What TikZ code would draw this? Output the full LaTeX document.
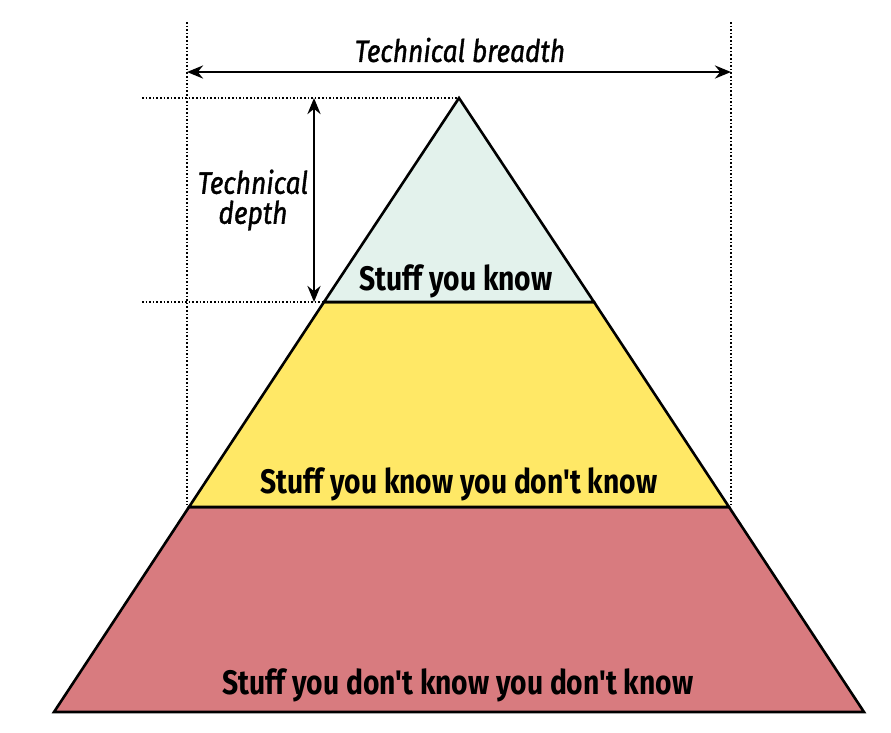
\documentclass[tikz,border=0pt]{standalone}
\usepackage{fontspec}
\setmainfont{Fira Sans}[FakeStretch=0.83, Ligatures=TeXOff]
\newfontfamily\italfont{Fira Sans}[FakeStretch=0.85, FakeBold=1.2]
\usetikzlibrary{arrows.meta}
\definecolor{topc}{HTML}{E3F2EC}
\definecolor{midc}{HTML}{FFE866}
\definecolor{botc}{HTML}{D87B7F}
\tikzset{
  layer/.style={draw=black, line width=2.6pt, line join=miter},
  guide/.style={draw=black, line width=1.6pt, dotted},
  dim/.style={draw=black, line width=2.8pt, {Stealth[length=16pt,width=13pt]}-{Stealth[length=16pt,width=13pt]}},
  lab/.style={font=\fontsize{34}{36}\selectfont\bfseries, inner sep=0pt},
  ital/.style={font=\italfont\fontsize{31}{30}\selectfont\itshape, inner sep=0pt, align=center}
}
\begin{document}
\begin{tikzpicture}[x=1pt,y=-1pt]
\useasboundingbox (0,0) rectangle (891,732);
% key points
\coordinate (apex) at (459,98);
\coordinate (l1l) at (324,302); \coordinate (l1r) at (594,302);
\coordinate (l2l) at (189,507); \coordinate (l2r) at (729,507);
\coordinate (l3l) at (54,712);  \coordinate (l3r) at (864,712);
% layers
\path[layer, fill=botc] (l2l) -- (l2r) -- (l3r) -- (l3l) -- cycle;
\path[layer, fill=midc] (l1l) -- (l1r) -- (l2r) -- (l2l) -- cycle;
\path[layer, fill=topc] (apex) -- (l1r) -- (l1l) -- cycle;
% guides
\coordinate (vlt) at (187,22); \coordinate (vlb) at (187,505);
\coordinate (vrt) at (731,22); \coordinate (vrb) at (731,505);
\coordinate (hta) at (142,98); \coordinate (hba) at (142,302);
\draw[guide] (vlt) -- (vlb);
\draw[guide] (vrt) -- (vrb);
\draw[guide] (hta) -- (apex);
\draw[guide] (hba) -- (l1l);
% dimension arrows
\coordinate (bl) at (187,72); \coordinate (br) at (731,72);
\coordinate (dt) at (314,98); \coordinate (db) at (314,302);
\draw[dim] (bl) -- (br);
\draw[dim] (dt) -- (db);
% labels
\node[ital] (breadth) at (460,50) {Technical breadth};
\node[ital] (depth) at (253,200) {Technical\\depth};
\node[lab] (t1) at (456,281) {Stuff you know};
\node[lab] (t2) at (459,484) {Stuff you know you don't know};
\node[lab] (t3) at (458,685) {Stuff you don't know you don't know};
\end{tikzpicture}
\end{document}
